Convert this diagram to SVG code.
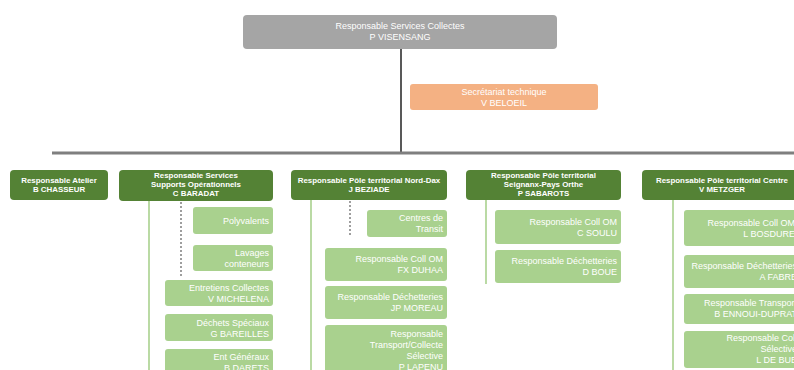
<svg xmlns="http://www.w3.org/2000/svg" width="794" height="370" viewBox="0 0 794 370">
<style>
text{font-family:"Liberation Sans",Arial,sans-serif;fill:#fff}
.top{fill:#A5A5A5}
.sec{fill:#F4B183}
.l2{fill:#548235}
.l3{fill:#A9D18E}
.t2{font-size:7.9px;font-weight:bold;text-anchor:middle}
.t1{font-size:9px;text-anchor:middle}
.t3{font-size:9px;text-anchor:end}
.main{stroke:#595959;stroke-width:2;fill:none}
.bar{stroke:#7F7F7F;stroke-width:3;fill:none}
.gl{stroke:#A9D18E;stroke-width:1.6;fill:none}
.dot{stroke:#7F7F7F;stroke-width:1.5;stroke-dasharray:2 2;fill:none}
</style>
<rect width="794" height="370" fill="#fff"/>
<g id="connectors">
<line class="main" x1="401" y1="49" x2="401" y2="153"/>
<line class="bar" x1="52" y1="153" x2="794" y2="153"/>
<line class="gl" x1="149" y1="201" x2="149" y2="370"/>
<line class="dot" x1="181" y1="202" x2="181" y2="277"/>
<line class="gl" x1="311" y1="200" x2="311" y2="370"/>
<line class="dot" x1="350" y1="201" x2="350" y2="237"/>
<line class="gl" x1="486" y1="200" x2="486" y2="284"/>
<line class="gl" x1="673" y1="200" x2="673" y2="370"/>
</g>
<g id="n-top"><rect class="top" x="243" y="15" width="314" height="34" rx="4"/><text class="t1" x="400" y="29">Responsable Services Collectes</text><text class="t1" x="400" y="40">P VISENSANG</text></g>
<g id="n-sec"><rect class="sec" x="410" y="84" width="188" height="26" rx="3"/><text class="t1" x="504" y="95">Secrétariat technique</text><text class="t1" x="504" y="106">V BELOEIL</text></g>

<g id="n-atelier"><rect class="l2" x="10" y="170" width="98" height="30" rx="4"/><text class="t2" x="59" y="183">Responsable Atelier</text><text class="t2" x="59" y="192">B CHASSEUR</text></g>
<g id="n-supports"><rect class="l2" x="119" y="170" width="154" height="31" rx="4"/><text class="t2" x="196" y="178">Responsable Services</text><text class="t2" x="196" y="187">Supports Opérationnels</text><text class="t2" x="196" y="196">C BARADAT</text></g>
<g id="n-norddax"><rect class="l2" x="291" y="170" width="156" height="30" rx="4"/><text class="t2" x="369" y="183">Responsable Pôle territorial Nord-Dax</text><text class="t2" x="369" y="192">J BEZIADE</text></g>
<g id="n-seignanx"><rect class="l2" x="466" y="170" width="155" height="30" rx="4"/><text class="t2" x="543.5" y="178">Responsable Pôle territorial</text><text class="t2" x="543.5" y="187">Seignanx-Pays Orthe</text><text class="t2" x="543.5" y="196">P SABAROTS</text></g>
<g id="n-centre"><rect class="l2" x="642" y="170" width="162" height="30" rx="4"/><text class="t2" x="722" y="183">Responsable Pôle territorial Centre</text><text class="t2" x="722" y="192">V METZGER</text></g>

<g id="n-polyvalents"><rect class="l3" x="193" y="207" width="80" height="27" rx="3"/><text class="t3" x="269" y="224">Polyvalents</text></g>
<g id="n-lavages"><rect class="l3" x="193" y="245" width="80" height="26" rx="3"/><text class="t3" x="269" y="256">Lavages</text><text class="t3" x="269" y="267">conteneurs</text></g>
<g id="n-entretiens"><rect class="l3" x="165" y="280" width="108" height="26" rx="3"/><text class="t3" x="269" y="291">Entretiens Collectes</text><text class="t3" x="269" y="302">V MICHELENA</text></g>
<g id="n-dechets"><rect class="l3" x="165" y="314" width="108" height="27" rx="3"/><text class="t3" x="269" y="326">Déchets Spéciaux</text><text class="t3" x="269" y="337">G BAREILLES</text></g>
<g id="n-entgen"><rect class="l3" x="165" y="349" width="108" height="30" rx="3"/><text class="t3" x="269" y="360">Ent Généraux</text><text class="t3" x="269" y="371">B DARETS</text></g>

<g id="n-centres"><rect class="l3" x="367" y="210" width="80" height="27" rx="3"/><text class="t3" x="443" y="221">Centres de</text><text class="t3" x="443" y="232">Transit</text></g>
<g id="n-collom1"><rect class="l3" x="325" y="248" width="122" height="33" rx="3"/><text class="t3" x="443" y="262">Responsable Coll OM</text><text class="t3" x="443" y="273">FX DUHAA</text></g>
<g id="n-dech1"><rect class="l3" x="325" y="286" width="122" height="33" rx="3"/><text class="t3" x="443" y="300">Responsable Déchetteries</text><text class="t3" x="443" y="311">JP MOREAU</text></g>
<g id="n-transp1"><rect class="l3" x="325" y="325" width="122" height="55" rx="3"/><text class="t3" x="443" y="337">Responsable</text><text class="t3" x="443" y="348">Transport/Collecte</text><text class="t3" x="443" y="359">Sélective</text><text class="t3" x="443" y="370">P LAPENU</text></g>

<g id="n-collom2"><rect class="l3" x="495" y="210" width="126" height="34" rx="3"/><text class="t3" x="617" y="225">Responsable Coll OM</text><text class="t3" x="617" y="236">C SOULU</text></g>
<g id="n-dech2"><rect class="l3" x="495" y="250" width="126" height="33" rx="3"/><text class="t3" x="617" y="264">Responsable Déchetteries</text><text class="t3" x="617" y="275">D BOUE</text></g>

<g id="n-collom3"><rect class="l3" x="684" y="210" width="120" height="36" rx="3"/><text class="t3" x="795" y="226">Responsable Coll OM</text><text class="t3" x="795" y="237">L BOSDURE</text></g>
<g id="n-dech3"><rect class="l3" x="684" y="255" width="120" height="33" rx="3"/><text class="t3" x="797" y="269">Responsable Déchetteries</text><text class="t3" x="797" y="280">A FABRE</text></g>
<g id="n-transp3"><rect class="l3" x="684" y="294" width="120" height="30" rx="3"/><text class="t3" x="797" y="306">Responsable Transport</text><text class="t3" x="797" y="317">B ENNOUI-DUPRAT</text></g>
<g id="n-collsel3"><rect class="l3" x="684" y="331" width="120" height="37" rx="3"/><text class="t3" x="797" y="341">Responsable Coll</text><text class="t3" x="797" y="352">Sélective</text><text class="t3" x="797" y="363">L DE BUE</text></g>
</svg>
